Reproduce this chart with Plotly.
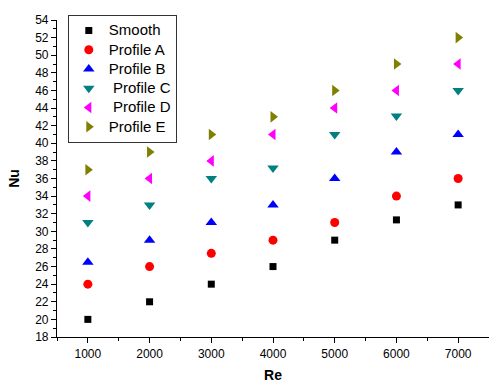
import plotly.graph_objects as go

re_vals = [1000, 2000, 3000, 4000, 5000, 6000, 7000]
smooth = [20, 22, 24, 26, 29, 31.3, 33]
profile_a = [24, 26, 27.5, 29, 31, 34, 36]
profile_b = [26.5, 29, 31, 33, 36, 39, 41]
profile_c = [31, 33, 36, 37.2, 41, 43.1, 46]
profile_d = [34, 36, 38, 41, 44, 46, 49]
profile_e = [37, 39, 41, 43, 46, 49, 52]

series_names = ["Smooth", "Profile A", "Profile B", " Profile C", " Profile D", "Profile E"]
series_values = [smooth, profile_a, profile_b, profile_c, profile_d, profile_e]
symbols = ["square", "circle", "triangle-up", "triangle-down", "triangle-left", "triangle-right"]
colors = ["#000000", "#FF0000", "#0000FF", "#008080", "#FF00FF", "#808000"]
sizes = [7, 9, 10, 10, 10, 10]

fig = go.Figure()
for name, vals, sym, col, sz in zip(series_names, series_values, symbols, colors, sizes):
    label = name.replace(" ", "&nbsp;", 1) if name.startswith(" ") else name
    fig.add_trace(go.Scatter(
        x=re_vals, y=vals, mode="markers",
        name='<span style="font-size:15px">' + label + "</span>",
        marker=dict(symbol=sym, color=col, size=sz, line=dict(width=0)),
    ))

fig.update_layout(
    width=489, height=383,
    margin=dict(l=57, r=0, t=20, b=46, autoexpand=False),
    plot_bgcolor="white", paper_bgcolor="white",
    font=dict(family="Arial, Liberation Sans, sans-serif", size=12, color="black"),
    showlegend=True,
    legend=dict(
        x=0.025, y=1.016, xanchor="left", yanchor="top",
        bordercolor="#333333", borderwidth=1, bgcolor="white",
        font=dict(size=12.5, family="Arial, Liberation Sans, sans-serif"),
        itemsizing="trace", tracegroupgap=0,
    ),
)

fig.update_xaxes(
    range=[500, 7500], tickvals=re_vals, ticktext=[str(v) for v in re_vals],
    automargin=False,
    showgrid=False, zeroline=False, showline=True, linecolor="black", linewidth=1.2,
    ticks="outside", ticklen=5, tickcolor="black", tickwidth=1,
    minor=dict(dtick=500, tick0=500, ticks="outside", ticklen=3, tickcolor="black", showgrid=False),
    title=dict(text="<b>Re</b>", font=dict(size=14), standoff=12),
)
fig.update_yaxes(
    range=[18, 54], dtick=2, tick0=18,
    automargin=False,
    showgrid=False, zeroline=False, showline=True, linecolor="black", linewidth=1.2,
    ticks="outside", ticklen=5, tickcolor="black", tickwidth=1,
    minor=dict(dtick=1, ticks="outside", ticklen=3, tickcolor="black", showgrid=False),
    title=dict(text="<b>Nu</b>", font=dict(size=14), standoff=12),
)

fig.write_html(
    "out.html",
    config={"displayModeBar": False},
    post_script="document.body.style.margin='0';document.body.style.overflow='hidden';",
)
